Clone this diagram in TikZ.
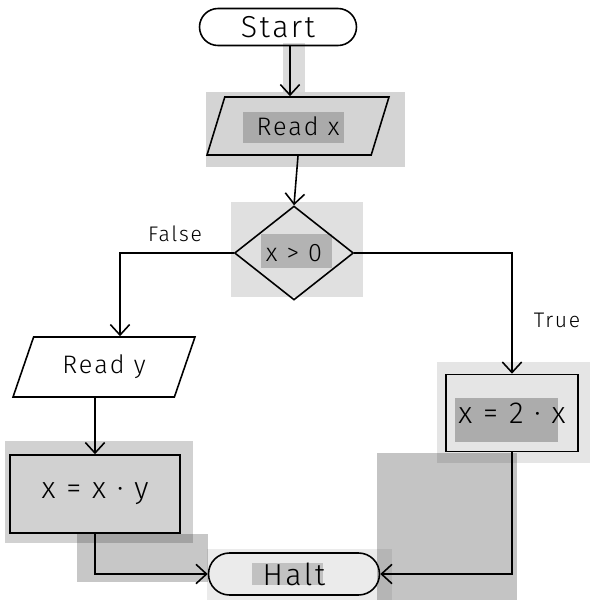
\documentclass[tikz,border=0pt]{standalone}
\usepackage{fontspec}
\setmainfont{Fira Sans}[UprightFont=* Light]
\newfontfamily\sketchfont{Fira Sans}[UprightFont=* Light,LetterSpace=8]
\usetikzlibrary{arrows.meta,shapes.geometric,positioning}
\tikzset{
  greybox/.style={fill=black,fill opacity=#1,draw=none},
  line/.style={line width=0.9pt},
  flow/.style={line,-{Straight Barb[length=6pt,width=11pt]}},
  terminal/.style={line,draw,rectangle,font=\LARGE\sketchfont},
  io/.style={line,draw,trapezium,trapezium left angle=60,trapezium right angle=120,trapezium stretches body,font=\Large\sketchfont},
  decision/.style={line,draw,diamond,aspect=1.27,font=\Large\sketchfont},
  process/.style={line,draw,rectangle,font=\LARGE\sketchfont},
  branch/.style={font=\large\sketchfont}
}

\begin{document}
\begin{tikzpicture}[x=0.02cm,y=-0.02cm]
\useasboundingbox (0,0) rectangle (600,600);

\fill[greybox=0.14] (283,43) rectangle (305,92);
\fill[greybox=0.17] (206,92) rectangle (405,167);
\fill[greybox=0.2] (243,112) rectangle (344,143);
\fill[greybox=0.12] (231,202) rectangle (363,297);
\fill[greybox=0.2] (261,234) rectangle (332,268);
\fill[greybox=0.18] (5,441) rectangle (193,543);
\fill[greybox=0.22] (77,534) rectangle (208,582);
\fill[greybox=0.1] (437,362) rectangle (590,463);
\fill[greybox=0.25] (455,398) rectangle (558,442);
\fill[greybox=0.23] (377,453) rectangle (517,600);
\fill[greybox=0.08] (207,549) rectangle (392,600);
\fill[greybox=0.18] (252,563) rectangle (323,585);

\node[terminal,minimum width=3.14cm,minimum height=0.74cm,rounded corners=0.37cm] (start) at (278,27) {Start};
\node[io,minimum width=3.64cm,minimum height=1.16cm] (readx) at (298,126) {Read x};
\node[decision,minimum width=2.38cm,minimum height=1.88cm] (test) at (294,253) {x > 0};
\node[io,minimum width=3.64cm,minimum height=1.2cm] (ready) at (104,367) {Read y};
\node[process,minimum width=3.4cm,minimum height=1.56cm] (mulxy) at (95,494) {x = x · y};
\node[process,minimum width=2.64cm,minimum height=1.54cm] (dblx) at (512,413) {x = 2 · x};
\node[terminal,minimum width=3.42cm,minimum height=0.84cm,rounded corners=0.42cm] (halt) at (294,574) {Halt};

\node[branch] (falselbl) at (175,234) {False};
\node[branch] (truelbl) at (557,320) {True};

\coordinate (startx) at (290,0);
\coordinate (falsex) at (120,0);

\draw[flow] (start.south -| startx) -- (readx.north -| startx);
\draw[flow] (readx.south) -- (test.north);
\draw[flow] (test.west) -| (ready.north -| falsex);
\draw[flow] (test.east) -| (dblx.north);
\draw[flow] (ready.south -| mulxy.north) -- (mulxy.north);
\draw[flow] (mulxy.south) |- (halt.west);
\draw[flow] (dblx.south) |- (halt.east);

\end{tikzpicture}
\end{document}
